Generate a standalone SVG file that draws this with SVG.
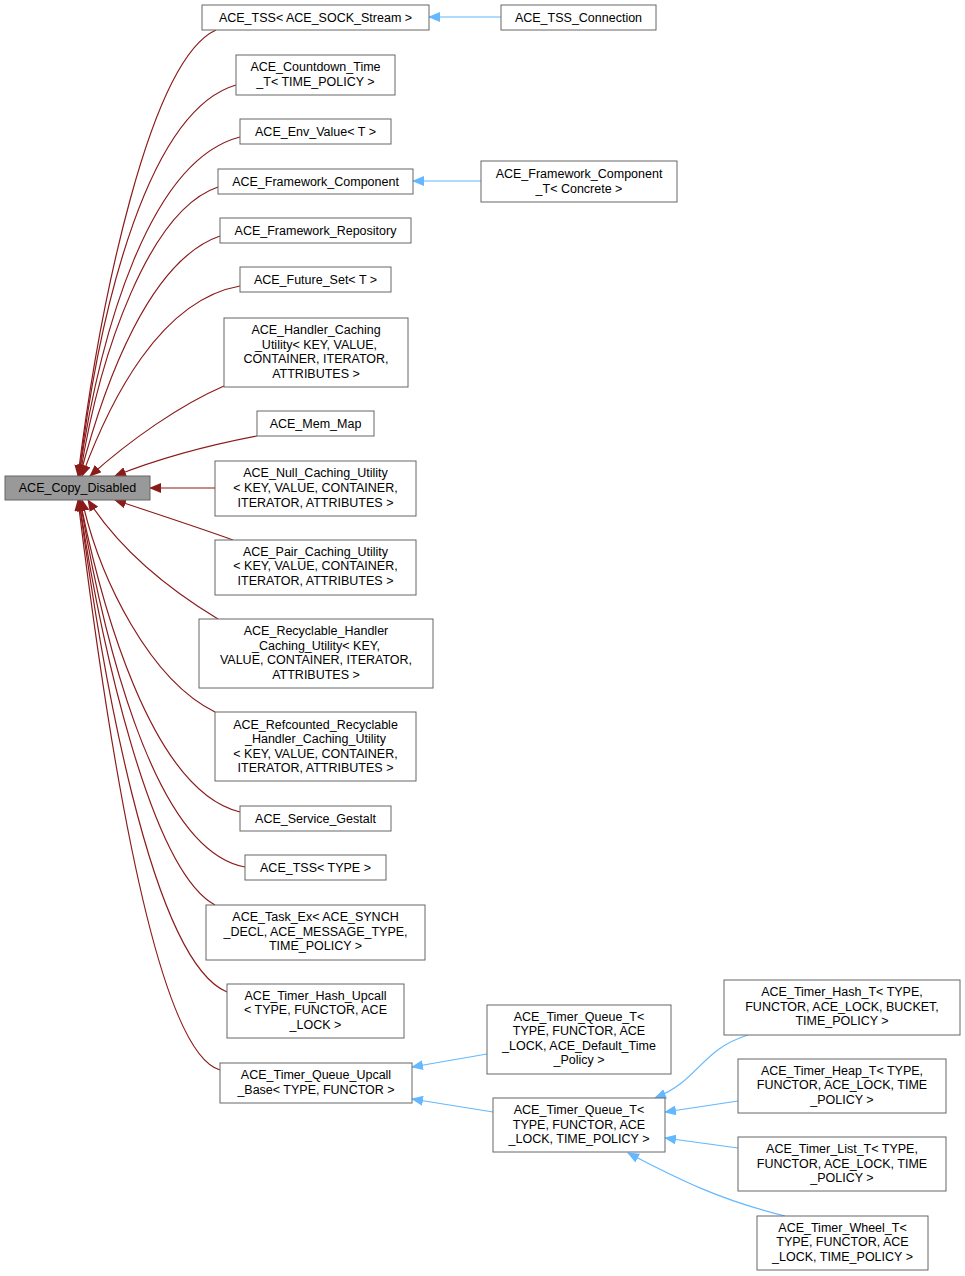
<svg xmlns="http://www.w3.org/2000/svg" width="965" height="1276" viewBox="0 0 965 1276">
<style>
rect{fill:#fff;stroke:#666;stroke-width:1}
#n0 rect{fill:#999}
text{font-family:"Liberation Sans",Arial,sans-serif;font-size:12.5px;text-anchor:middle;fill:#000}
.r{fill:none;stroke:#8b1a1a;stroke-width:1.2}
.b{fill:none;stroke:#63b8ff;stroke-width:1.2}
</style>
<defs>
<marker id="mr" markerWidth="12" markerHeight="10" refX="11" refY="5" orient="auto" markerUnits="userSpaceOnUse"><polygon points="0,0 12,5 0,10" fill="#8b1a1a"/></marker>
<marker id="mb" markerWidth="12" markerHeight="10" refX="11" refY="5" orient="auto" markerUnits="userSpaceOnUse"><polygon points="0,0 12,5 0,10" fill="#63b8ff"/></marker>
</defs>
<g id="edges">
<path class="r" marker-end="url(#mr)" d="M216,30 C150,60 100,300 78,476"/>
<path class="r" marker-end="url(#mr)" d="M236,85 C150,110 100,300 79,476"/>
<path class="r" marker-end="url(#mr)" d="M240,137 C150,160 100,330 79,476"/>
<path class="r" marker-end="url(#mr)" d="M218,187 C150,210 100,350 80,476"/>
<path class="r" marker-end="url(#mr)" d="M220,236 C150,260 105,380 80,476"/>
<path class="r" marker-end="url(#mr)" d="M240,286 C160,300 110,400 82,476"/>
<path class="r" marker-end="url(#mr)" d="M224,386 C180,405 130,440 90,476"/>
<path class="r" marker-end="url(#mr)" d="M257,436 C210,445 160,458 115,476"/>
<path class="r" marker-end="url(#mr)" d="M215,488 L150,488"/>
<path class="r" marker-end="url(#mr)" d="M233,540 C200,528 160,515 115,500"/>
<path class="r" marker-end="url(#mr)" d="M218,619 C170,590 120,550 88,500"/>
<path class="r" marker-end="url(#mr)" d="M215,712 C150,680 100,580 82,500"/>
<path class="r" marker-end="url(#mr)" d="M240,812 C150,790 100,600 80,500"/>
<path class="r" marker-end="url(#mr)" d="M245,867 C150,850 100,620 80,500"/>
<path class="r" marker-end="url(#mr)" d="M215,905 C150,870 100,640 79,500"/>
<path class="r" marker-end="url(#mr)" d="M227,992 C150,960 100,660 79,500"/>
<path class="r" marker-end="url(#mr)" d="M220,1070 C150,1050 100,680 78,500"/>
<path class="b" marker-end="url(#mb)" d="M501,17 L429,17"/>
<path class="b" marker-end="url(#mb)" d="M481,181 L413,181"/>
<path class="b" marker-end="url(#mb)" d="M487,1054 L412,1067"/>
<path class="b" marker-end="url(#mb)" d="M493,1112 L412,1099"/>
<path class="b" marker-end="url(#mb)" d="M748,1035 C700,1050 700,1080 655,1098"/>
<path class="b" marker-end="url(#mb)" d="M738,1101 L665,1112"/>
<path class="b" marker-end="url(#mb)" d="M738,1148 L665,1138"/>
<path class="b" marker-end="url(#mb)" d="M785,1216 C720,1200 680,1180 628,1153"/>
</g>
<g id="n0"><rect x="5" y="476" width="145" height="24"/><text x="77.5" y="492">ACE_Copy_Disabled</text></g>
<g id="n1"><rect x="202" y="5" width="227" height="25"/><text x="315.5" y="22">ACE_TSS&lt; ACE_SOCK_Stream &gt;</text></g>
<g id="n2"><rect x="501" y="5" width="155" height="25"/><text x="578.5" y="22">ACE_TSS_Connection</text></g>
<g id="n3"><rect x="236" y="55" width="159" height="40"/><text x="315.5" y="71">ACE_Countdown_Time</text><text x="315.5" y="86">_T&lt; TIME_POLICY &gt;</text></g>
<g id="n4"><rect x="240" y="119" width="151" height="25"/><text x="315.5" y="136">ACE_Env_Value&lt; T &gt;</text></g>
<g id="n5"><rect x="218" y="169" width="195" height="25"/><text x="315.5" y="186">ACE_Framework_Component</text></g>
<g id="n6"><rect x="481" y="161" width="196" height="41"/><text x="579" y="178">ACE_Framework_Component</text><text x="579" y="193">_T&lt; Concrete &gt;</text></g>
<g id="n7"><rect x="220" y="218" width="191" height="25"/><text x="315.5" y="235">ACE_Framework_Repository</text></g>
<g id="n8"><rect x="240" y="267" width="151" height="25"/><text x="315.5" y="284">ACE_Future_Set&lt; T &gt;</text></g>
<g id="n9"><rect x="224" y="318" width="184" height="69"/><text x="316" y="334">ACE_Handler_Caching</text><text x="316" y="349">_Utility&lt; KEY, VALUE,</text><text x="316" y="363">CONTAINER, ITERATOR,</text><text x="316" y="378">ATTRIBUTES &gt;</text></g>
<g id="n10"><rect x="257" y="411" width="117" height="25"/><text x="315.5" y="428">ACE_Mem_Map</text></g>
<g id="n11"><rect x="215" y="461" width="201" height="55"/><text x="315.5" y="477">ACE_Null_Caching_Utility</text><text x="315.5" y="492">&lt; KEY, VALUE, CONTAINER,</text><text x="315.5" y="507">ITERATOR, ATTRIBUTES &gt;</text></g>
<g id="n12"><rect x="215" y="540" width="201" height="55"/><text x="315.5" y="556">ACE_Pair_Caching_Utility</text><text x="315.5" y="570">&lt; KEY, VALUE, CONTAINER,</text><text x="315.5" y="585">ITERATOR, ATTRIBUTES &gt;</text></g>
<g id="n13"><rect x="199" y="619" width="234" height="69"/><text x="316" y="635">ACE_Recyclable_Handler</text><text x="316" y="650">_Caching_Utility&lt; KEY,</text><text x="316" y="664">VALUE, CONTAINER, ITERATOR,</text><text x="316" y="679">ATTRIBUTES &gt;</text></g>
<g id="n14"><rect x="215" y="712" width="201" height="69"/><text x="315.5" y="729">ACE_Refcounted_Recyclable</text><text x="315.5" y="743">_Handler_Caching_Utility</text><text x="315.5" y="758">&lt; KEY, VALUE, CONTAINER,</text><text x="315.5" y="772">ITERATOR, ATTRIBUTES &gt;</text></g>
<g id="n15"><rect x="240" y="806" width="151" height="25"/><text x="315.5" y="823">ACE_Service_Gestalt</text></g>
<g id="n16"><rect x="245" y="855" width="141" height="25"/><text x="315.5" y="872">ACE_TSS&lt; TYPE &gt;</text></g>
<g id="n17"><rect x="206" y="905" width="219" height="55"/><text x="315.5" y="921">ACE_Task_Ex&lt; ACE_SYNCH</text><text x="315.5" y="936">_DECL, ACE_MESSAGE_TYPE,</text><text x="315.5" y="950">TIME_POLICY &gt;</text></g>
<g id="n18"><rect x="227" y="984" width="177" height="54"/><text x="315.5" y="1000">ACE_Timer_Hash_Upcall</text><text x="315.5" y="1014">&lt; TYPE, FUNCTOR, ACE</text><text x="315.5" y="1029">_LOCK &gt;</text></g>
<g id="n19"><rect x="220" y="1063" width="192" height="40"/><text x="316" y="1079">ACE_Timer_Queue_Upcall</text><text x="316" y="1094">_Base&lt; TYPE, FUNCTOR &gt;</text></g>
<g id="n20"><rect x="487" y="1005" width="184" height="69"/><text x="579" y="1021">ACE_Timer_Queue_T&lt;</text><text x="579" y="1035">TYPE, FUNCTOR, ACE</text><text x="579" y="1050">_LOCK, ACE_Default_Time</text><text x="579" y="1064">_Policy &gt;</text></g>
<g id="n21"><rect x="493" y="1098" width="172" height="54"/><text x="579" y="1114">ACE_Timer_Queue_T&lt;</text><text x="579" y="1129">TYPE, FUNCTOR, ACE</text><text x="579" y="1143">_LOCK, TIME_POLICY &gt;</text></g>
<g id="n22"><rect x="724" y="980" width="236" height="55"/><text x="842" y="996">ACE_Timer_Hash_T&lt; TYPE,</text><text x="842" y="1011">FUNCTOR, ACE_LOCK, BUCKET,</text><text x="842" y="1025">TIME_POLICY &gt;</text></g>
<g id="n23"><rect x="738" y="1059" width="208" height="54"/><text x="842" y="1075">ACE_Timer_Heap_T&lt; TYPE,</text><text x="842" y="1089">FUNCTOR, ACE_LOCK, TIME</text><text x="842" y="1104">_POLICY &gt;</text></g>
<g id="n24"><rect x="738" y="1137" width="208" height="54"/><text x="842" y="1153">ACE_Timer_List_T&lt; TYPE,</text><text x="842" y="1168">FUNCTOR, ACE_LOCK, TIME</text><text x="842" y="1182">_POLICY &gt;</text></g>
<g id="n25"><rect x="757" y="1216" width="171" height="54"/><text x="842.5" y="1232">ACE_Timer_Wheel_T&lt;</text><text x="842.5" y="1246">TYPE, FUNCTOR, ACE</text><text x="842.5" y="1261">_LOCK, TIME_POLICY &gt;</text></g>
</svg>
